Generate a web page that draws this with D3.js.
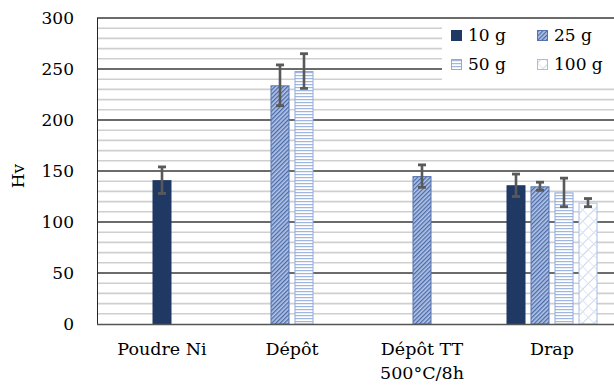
<!DOCTYPE html>
<html><head><meta charset="utf-8">
<script src="https://cdn.jsdelivr.net/npm/d3@7"></script>
<style>body{margin:0;background:#fff}svg{display:block}text{font-family:"DejaVu Serif",serif;fill:#000}</style>
</head><body><svg id="c" width="614" height="392"></svg>
<script>
const categories = ["Poudre Ni", "Dépôt", "Dépôt TT\n500°C/8h", "Drap"];
const seriesNames = ["10 g", "25 g", "50 g", "100 g"];
const values = {
  "10 g":  [141, null, null, 136],
  "25 g":  [null, 234, 145, 135],
  "50 g":  [null, 248, null, 129],
  "100 g": [null, null, null, 119]
};
const errors = {
  "10 g":  [13, null, null, 11],
  "25 g":  [null, 20, 11, 4],
  "50 g":  [null, 17, null, 14],
  "100 g": [null, null, null, 4]
};
const yTicks = [0, 50, 100, 150, 200, 250, 300];

const svg = d3.select("#c");
const m = {l:97, r:614+3, t:18, b:324};
const x = d3.scaleBand().domain(categories).range([m.l, m.r]).paddingInner(0).paddingOuter(0);
const y = d3.scaleLinear().domain([0,300]).range([m.b, m.t]);

// patterns
const defs = svg.append("defs");
const p25 = defs.append("pattern").attr("id","p25").attr("patternUnits","userSpaceOnUse")
  .attr("width",3).attr("height",3).attr("patternTransform","rotate(45)");
p25.append("rect").attr("width",3).attr("height",3).attr("fill","#b4c6e7");
p25.append("rect").attr("width",1.3).attr("height",3).attr("fill","#4a6aa8");
const p50 = defs.append("pattern").attr("id","p50").attr("patternUnits","userSpaceOnUse")
  .attr("width",3).attr("height",3);
p50.append("rect").attr("width",3).attr("height",3).attr("fill","#ffffff");
p50.append("rect").attr("width",3).attr("height",1.2).attr("fill","#9fb6e0");
const p100 = defs.append("pattern").attr("id","p100").attr("patternUnits","userSpaceOnUse")
  .attr("width",8).attr("height",8).attr("patternTransform","rotate(45)");
p100.append("rect").attr("width",8).attr("height",8).attr("fill","#ffffff");
p100.append("rect").attr("width",1).attr("height",8).attr("fill","#c9d6ee");
p100.append("rect").attr("width",8).attr("height",1).attr("fill","#dfe7f5");

const fills = {"10 g":"#1f3864","25 g":"url(#p25)","50 g":"url(#p50)","100 g":"url(#p100)"};
const strokes = {"10 g":"#1f3864","25 g":"#5673b0","50 g":"#8eaadb","100 g":"#a8bde3"};

// minor gridlines
const minor = d3.range(10, 300, 10).filter(v => v % 50 !== 0);
svg.append("g").selectAll("line").data(minor).join("line")
  .attr("x1", m.l).attr("x2", m.r).attr("y1", d=>y(d)).attr("y2", d=>y(d))
  .attr("stroke","#cfcfcf").attr("stroke-width",1.6);
// major gridlines
svg.append("g").selectAll("line").data(yTicks.filter(v=>v>0)).join("line")
  .attr("x1", m.l).attr("x2", m.r).attr("y1", d=>y(d)).attr("y2", d=>y(d))
  .attr("stroke","#3a3a3a").attr("stroke-width",1.6);

// legend background
const lg = svg.append("g");
lg.append("rect").attr("x",442).attr("y",y(300)+1).attr("width",180).attr("height",67).attr("fill","#fff");

// bars
const bw = 19, step = 24;
const groups = categories.map((c,i)=>{
  const present = seriesNames.filter(s=>values[s][i]!=null);
  return {c, i, present};
});
const barData = [];
groups.forEach(g=>{
  const n = g.present.length;
  g.present.forEach((s,k)=>{
    const cx = x(g.c) + x.bandwidth()/2 + (k-(n-1)/2)*step;
    barData.push({s, v:values[s][g.i], e:errors[s][g.i], cx});
  });
});
const bg = svg.append("g");
bg.selectAll("rect").data(barData).join("rect")
  .attr("x", d=>d.cx-bw/2+0.5).attr("width", bw-1)
  .attr("y", d=>y(d.v)+0.5).attr("height", d=>y(0)-y(d.v)-0.5)
  .attr("fill", d=>fills[d.s]).attr("stroke", d=>strokes[d.s]).attr("stroke-width",1);

// axes lines
svg.append("line").attr("x1",m.l+0.5).attr("x2",m.l+0.5).attr("y1",m.t).attr("y2",m.b+1).attr("stroke","#262626");
svg.append("line").attr("x1",m.l).attr("x2",m.r).attr("y1",m.b+0.5).attr("y2",m.b+0.5).attr("stroke","#555").attr("stroke-width",1.4);

// error bars
const eg = svg.append("g").attr("stroke","#595959");
barData.forEach(d=>{
  eg.append("line").attr("x1",d.cx).attr("x2",d.cx).attr("y1",y(d.v+d.e)).attr("y2",y(d.v-d.e)).attr("stroke-width",2.6);
  [d.v+d.e, d.v-d.e].forEach(v=>{
    eg.append("line").attr("x1",d.cx-4).attr("x2",d.cx+4).attr("y1",y(v)).attr("y2",y(v)).attr("stroke-width",2.8);
  });
});

// y tick labels
svg.append("g").selectAll("text").data(yTicks).join("text")
  .attr("x", 74).attr("y", d=>y(d)+6).attr("text-anchor","end").attr("font-size",17).text(d=>d);
svg.append("text").attr("transform","translate(24,176) rotate(-90)").attr("text-anchor","middle")
  .attr("font-size",17).text("Hv");

// x labels
const xl = svg.append("g");
categories.forEach(c=>{
  const lines = c.split("\n");
  const t = xl.append("text").attr("x", x(c)+x.bandwidth()/2).attr("y",355).attr("text-anchor","middle").attr("font-size",17.5);
  lines.forEach((ln,k)=>t.append("tspan").attr("x", x(c)+x.bandwidth()/2).attr("dy", k?24:0).text(ln));
});

// legend
const legPos = [[451,30],[537,30],[451,59],[537,59]];
seriesNames.forEach((s,k)=>{
  const [lx,ly] = legPos[k];
  lg.append("rect").attr("x",lx+0.5).attr("y",ly+0.5).attr("width",10).attr("height",10)
    .attr("fill",fills[s]).attr("stroke",strokes[s]);
  lg.append("text").attr("x",lx+17).attr("y",ly+11).attr("font-size",17).text(s);
});
</script></body></html>
